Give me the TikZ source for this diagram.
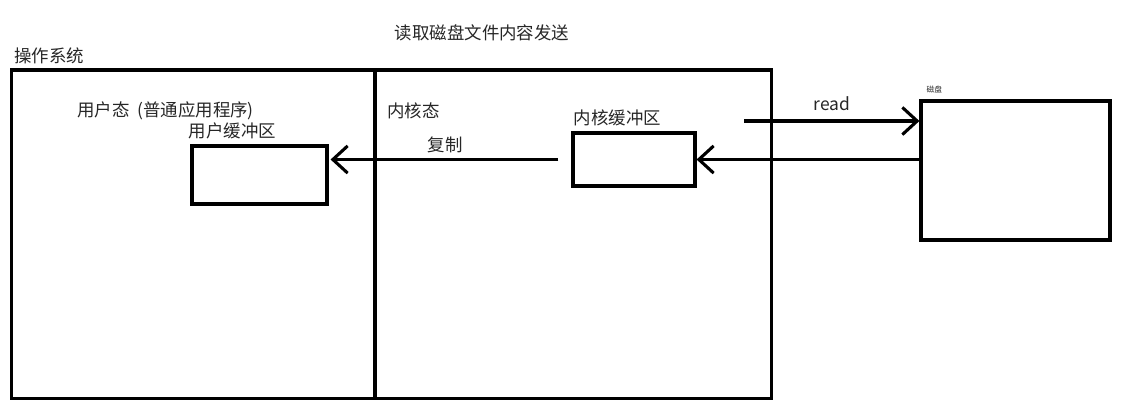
\documentclass[tikz,border=0pt]{standalone}
\usepackage{fontspec}
\setmainfont{Noto Sans CJK SC}
\usetikzlibrary{arrows.meta,positioning}
\tikzset{
  box/.style={draw=black, line width=2.2pt, inner sep=0},
  txt/.style={inner sep=0, text=black!85, font=\fontsize{12.4}{15}\selectfont},
  arr/.style={line width=2.2pt, -{Straight Barb[length=0.37cm,width=0.68cm]}},
}

\begin{document}
\begin{tikzpicture}[x=0.025cm,y=-0.025cm]
\useasboundingbox (0,0) rectangle (1132,416);
\node[txt] (title) at (482,33) {读取磁盘文件内容发送};
\node[txt, anchor=west] (oslbl) at (14,56) {操作系统};

% os with user / kernel side
\node[box, minimum width=18.975cm, minimum height=8.2cm] (os) at (391.5,234) {};
\draw[line width=2.2pt] (os.north -| 375,0) -- (os.south -| 375,0);
\node[txt, anchor=west] (userlbl) at (77,111) {用户态\ \ (普通应用程序)};
\node[txt, anchor=west] (kernlbl) at (387,111) {内核态};

% buffers
\node[box, minimum width=3.375cm, minimum height=1.45cm] (userbuf) at (259.5,175) {};
\node[txt, anchor=south west] (userbuflbl) at ([shift={(-2,-5)}]userbuf.north west) {用户缓冲区};
\node[box, minimum width=3.05cm, minimum height=1.325cm] (kernbuf) at (634,159.5) {};
\node[txt, anchor=south west] (kernbuflbl) at ([shift={(2,-5)}]kernbuf.north west) {内核缓冲区};

% disk
\node[box, minimum width=4.725cm, minimum height=3.475cm] (disk) at (1015.5,170.5) {};
\node[txt, anchor=south west, font=\fontsize{5.5}{6}\selectfont] (disklbl) at ([shift={(7,-6)}]disk.north west) {磁盘};

% arrows
\coordinate (readfrom) at (744,121);
\draw[arr] (readfrom) -- (readfrom -| disk.west);
\node[txt] (readlbl) at (832,104) {read};
\draw[arr] (disk.west |- kernbuf.east) -- (kernbuf.east);
\draw[arr, shorten <=0.325cm, shorten >=0.05cm] (kernbuf.west) -- (kernbuf.west -| userbuf.east);
\node[txt] (copylbl) at (445,145) {复制};
\end{tikzpicture}
\end{document}
